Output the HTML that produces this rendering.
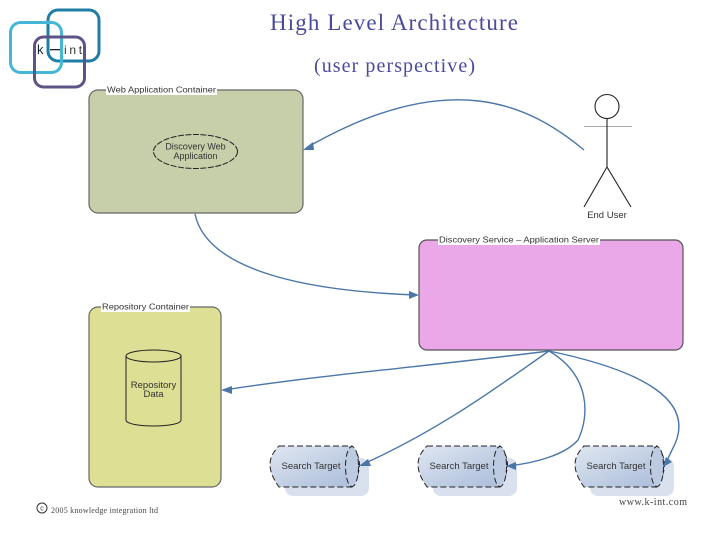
<!DOCTYPE html>
<html><head><meta charset="utf-8">
<style>
html,body{margin:0;padding:0;background:#fff;width:720px;height:540px;overflow:hidden}
svg{display:block}
text{font-family:"Liberation Sans",sans-serif}
.s{font-family:"Liberation Serif",serif;fill:#4a4a9c}
.c{stroke:#4a76a8;stroke-width:1.4;fill:none}
.a{fill:#4a76a8}
</style></head><body>
<svg width="720" height="540" viewBox="0 0 720 540" xmlns="http://www.w3.org/2000/svg">
<defs>
<linearGradient id="g" x1="0" y1="0" x2="1" y2="1"><stop offset="0" stop-color="#dfe6f1"/><stop offset="1" stop-color="#a9bcd9"/></linearGradient>
</defs>
<!-- logo -->
<rect x="48" y="10" width="51" height="51" rx="10" fill="none" stroke="#1f7ea6" stroke-width="3"/>
<rect x="10.500" y="22.500" width="51" height="50" rx="10" fill="none" stroke="#45b5d8" stroke-width="3"/>
<rect x="34.500" y="37" width="50" height="50" rx="9" fill="none" stroke="#5d5486" stroke-width="3"/>
<text x="37" y="54" font-size="13" fill="#123">k</text>
<rect x="50" y="49" width="10" height="1.300" fill="#223"/>
<text x="64" y="54" font-size="12" letter-spacing="2.700" fill="#333">int</text>
<!-- title -->
<text class="s" x="270" y="30" font-size="23" textLength="248" lengthAdjust="spacing">High Level Architecture</text>
<text class="s" x="314" y="72" font-size="20" textLength="161" lengthAdjust="spacing">(user perspective)</text>
<!-- web container -->
<rect x="89" y="90" width="214" height="123" rx="9" fill="#c6cfa9" stroke="#666" stroke-width="1.200"/>
<rect x="106" y="85" width="111" height="10" fill="#fff"/>
<text x="107" y="92.500" font-size="8" fill="#333" textLength="109" lengthAdjust="spacingAndGlyphs">Web Application Container</text>
<ellipse cx="195.500" cy="151.500" rx="42" ry="17" fill="none" stroke="#222" stroke-width="1" stroke-dasharray="6 1.500"/>
<text x="195.500" y="149.500" font-size="9" fill="#333" text-anchor="middle">Discovery Web</text>
<text x="195.500" y="159" font-size="9" fill="#333" text-anchor="middle">Application</text>
<!-- actor -->
<circle cx="607" cy="106.500" r="12" fill="#fff" stroke="#222" stroke-width="1.100"/>
<line x1="584" y1="126.500" x2="632" y2="126.500" stroke="#aaa" stroke-width="1"/>
<path d="M607 118V167M607 167L584 207M607 167L631 207" stroke="#222" stroke-width="1.100" fill="none"/>
<text x="607" y="218" font-size="9.500" fill="#333" text-anchor="middle">End User</text>
<!-- service -->
<rect x="419" y="240" width="264" height="110" rx="8" fill="#eaa8e9" stroke="#555" stroke-width="1.200"/>
<rect x="438" y="235" width="162" height="10" fill="#fff"/>
<text x="439" y="242.500" font-size="8" fill="#333" textLength="160" lengthAdjust="spacingAndGlyphs">Discovery Service – Application Server</text>
<!-- repo -->
<rect x="89" y="307" width="132" height="180" rx="9" fill="#dde094" stroke="#666" stroke-width="1.200"/>
<rect x="101" y="302" width="89" height="10" fill="#fff"/>
<text x="102" y="309.500" font-size="8" fill="#333" textLength="87" lengthAdjust="spacingAndGlyphs">Repository Container</text>
<path d="M126 356V420C126 428 181 428 181 420V356" fill="none" stroke="#222" stroke-width="1"/>
<ellipse cx="153.500" cy="356" rx="27.500" ry="6" fill="none" stroke="#222" stroke-width="1"/>
<text x="153.500" y="388" font-size="9.500" fill="#333" text-anchor="middle">Repository</text>
<text x="153.500" y="397" font-size="9.500" fill="#333" text-anchor="middle">Data</text>
<!-- search targets -->
<g>
<rect x="285" y="458" width="84" height="38" rx="8" fill="#d9e1ef"/>
<path d="M279 446H352C362 458 362 470 352 487H279C267 470 267 458 279 446Z" fill="url(#g)" stroke="#222" stroke-dasharray="6 3" stroke-width="1"/>
<ellipse cx="352" cy="466.500" rx="6.500" ry="20" fill="#bccbe2" stroke="#222" stroke-dasharray="6 3" stroke-width="1"/>
<text x="311" y="469" font-size="9.500" fill="#333" text-anchor="middle">Search Target</text>
</g>
<g transform="translate(148,0)">
<rect x="285" y="458" width="84" height="38" rx="8" fill="#d9e1ef"/>
<path d="M279 446H352C362 458 362 470 352 487H279C267 470 267 458 279 446Z" fill="url(#g)" stroke="#222" stroke-dasharray="6 3" stroke-width="1"/>
<ellipse cx="352" cy="466.500" rx="6.500" ry="20" fill="#bccbe2" stroke="#222" stroke-dasharray="6 3" stroke-width="1"/>
<text x="311" y="469" font-size="9.500" fill="#333" text-anchor="middle">Search Target</text>
</g>
<g transform="translate(305,0)">
<rect x="285" y="458" width="84" height="38" rx="8" fill="#d9e1ef"/>
<path d="M279 446H352C362 458 362 470 352 487H279C267 470 267 458 279 446Z" fill="url(#g)" stroke="#222" stroke-dasharray="6 3" stroke-width="1"/>
<ellipse cx="352" cy="466.500" rx="6.500" ry="20" fill="#bccbe2" stroke="#222" stroke-dasharray="6 3" stroke-width="1"/>
<text x="311" y="469" font-size="9.500" fill="#333" text-anchor="middle">Search Target</text>
</g>
<!-- connectors -->
<path class="c" d="M584 150C530 105 450 65 306 148"/>
<polygon class="a" points="303,150 313,142 314,150"/>
<path class="c" d="M195 214C205 262 280 290 416 295"/>
<polygon class="a" points="419,295 409,291 409,299"/>
<path class="c" d="M549 351C440 365 320 375 224 390"/>
<polygon class="a" points="221,390 232,386 232,394"/>
<path class="c" d="M549 351C500 385 440 430 361 465"/>
<polygon class="a" points="359,466 368,459 371,466"/>
<path class="c" d="M549 351C590 375 590 415 578 440C565 455 535 463 508 466"/>
<polygon class="a" points="506,466 516,462 516,470"/>
<path class="c" d="M549 351C640 370 700 400 672 450C668 458 667 462 664 465"/>
<polygon class="a" points="663,467 666,457 672,462"/>
<!-- footer -->
<circle cx="42" cy="508" r="5" fill="none" stroke="#333" stroke-width="1"/>
<text x="42" y="510.500" font-size="7" fill="#333" text-anchor="middle">c</text>
<text x="51" y="513" font-size="8" fill="#444" style="font-family:'Liberation Serif',serif" textLength="107">2005 knowledge integration ltd</text>
<text x="619" y="505" font-size="10" fill="#444" style="font-family:'Liberation Serif',serif" textLength="68">www.k-int.com</text>
</svg>
</body></html>
